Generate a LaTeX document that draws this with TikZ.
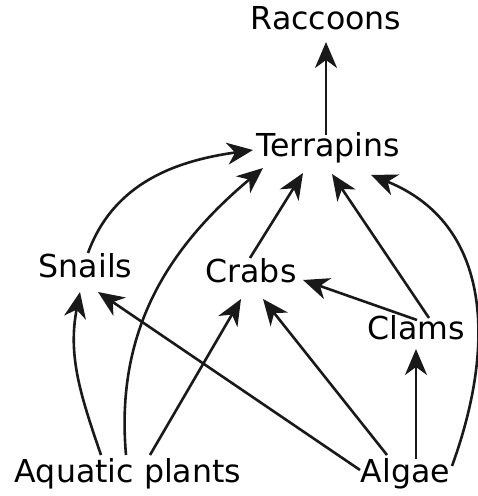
\documentclass[tikz,border=0pt]{standalone}
\usepackage{fontspec}
\setmainfont{DejaVu Sans}
\usepackage{tikz}
\usetikzlibrary{arrows.meta, calc}
\tikzset{
	species/.style ={inner sep=0pt, text height=0.76em, text depth=0.24em, font=\fontsize{31.6}{36}\selectfont},
	feeds/.style   ={-{Stealth[length=26pt, width=22pt, inset=8pt]}, line width=2.6pt, draw=black!90},
}
\begin{document}
\begin{tikzpicture}[x=1pt, y=1pt]
	\useasboundingbox (0,0) rectangle (478,496);
	\node[species] (racc)   at (326,469) {Raccoons};
	\node[species] (terr)   at (328,342) {Terrapins};
	\node[species] (snails) at (85.5,221) {Snails};
	\node[species] (crabs)  at (251,216) {Crabs};
	\node[species] (clams)  at (416,159) {Clams};
	\node[species] (plants) at (128,16) {Aquatic plants};
	\node[species] (algae)  at (405.5,16) {Algae};
	\draw[feeds] ($(terr)+(-2,19)$) -- ($(racc)+(0,-15)$);
	\draw[feeds] ($(snails)+(2.5,22)$) to[out=70, in=188] ($(terr)+(-75,4)$);
	\draw[feeds] ($(plants)+(-2,25)$) to[out=95, in=220] ($(terr)+(-65,-14)$);
	\draw[feeds] ($(crabs)+(-1,22)$) -- ($(terr)+(-25,-19)$);
	\draw[feeds] ($(clams)+(13,19)$) -- ($(terr)+(4,-20)$);
	\draw[feeds] ($(algae)+(46.5,14)$) to[out=70, in=-22, looseness=1.1] ($(terr)+(43,-21)$);
	\draw[feeds] ($(plants)+(-27,25)$) to[out=109, in=259] ($(snails)+(-5.5,-17)$);
	\draw[feeds] ($(plants)+(22,25)$) -- ($(crabs)+(-10,-19)$);
	\draw[feeds] ($(algae)+(-45.5,10)$) -- ($(snails)+(12.5,-17)$);
	\draw[feeds] ($(algae)+(-18.5,25)$) -- ($(crabs)+(12,-19)$);
	\draw[feeds] ($(algae)+(10.5,21)$) -- ($(clams)+(0,-12)$);
	\draw[feeds] ($(clams)+(1,17)$) -- ($(crabs)+(52,0)$);
\end{tikzpicture}
\end{document}
